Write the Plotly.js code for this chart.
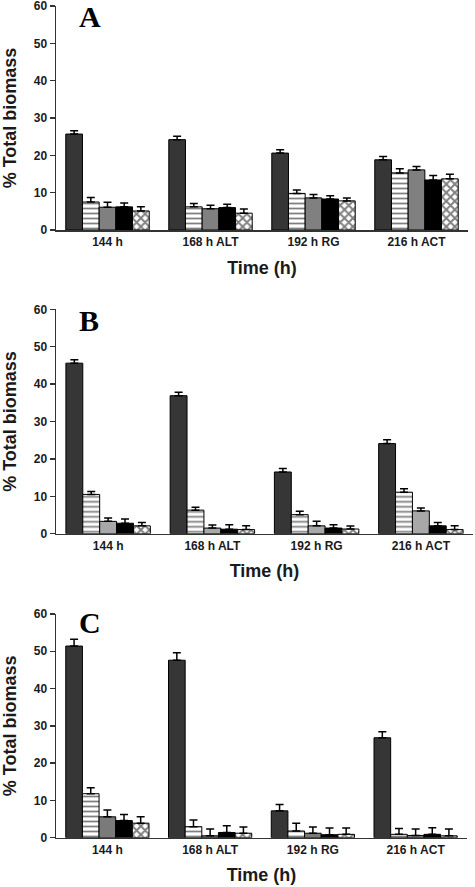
<!DOCTYPE html>
<html>
<head>
<meta charset="utf-8">
<script src="https://cdn.plot.ly/plotly-3.0.1.min.js"></script>
<style>html,body{margin:0;padding:0;background:#fff;}#chart{width:475px;height:887px;}</style>
</head>
<body>
<div id="chart"></div>
<script>
// ---- data ----
const categories = ["144 h", "168 h ALT", "192 h RG", "216 h ACT"];
const seriesNames = ["Series 1", "Series 2", "Series 3", "Series 4", "Series 5"];
const panelLabels = ["A", "B", "C"];
const yTicks = [0, 10, 20, 30, 40, 50, 60];

// Panel A values (one row per series) and upper error
const valuesA = [
  [25.7, 24.2, 20.6, 18.8],
  [7.5, 6.2, 9.8, 15.3],
  [6.1, 5.7, 8.6, 16.1],
  [6.2, 6.0, 8.3, 13.4],
  [5.1, 4.5, 7.8, 13.7]
];
const errorsA = [
  [0.9, 0.9, 0.9, 0.9],
  [1.2, 0.9, 0.9, 1.1],
  [1.3, 0.9, 0.9, 0.9],
  [1.0, 0.9, 0.9, 1.2],
  [1.1, 1.1, 0.8, 1.2]
];
// Panel B
const valuesB = [
  [45.6, 36.9, 16.5, 24.1],
  [10.5, 6.3, 5.1, 11.1],
  [3.3, 1.5, 2.1, 6.1],
  [2.8, 1.2, 1.5, 2.1],
  [2.1, 1.1, 1.25, 1.1]
];
const errorsB = [
  [0.9, 0.9, 0.9, 1.0],
  [0.8, 0.8, 0.9, 0.9],
  [0.9, 0.8, 1.2, 0.8],
  [1.1, 1.2, 0.9, 0.9],
  [0.9, 1.0, 0.8, 1.0]
];
// Panel C
const valuesC = [
  [51.4, 47.6, 7.2, 26.8],
  [11.8, 2.95, 1.8, 0.9],
  [5.6, 0.5, 1.2, 0.6],
  [4.6, 1.4, 0.8, 0.9],
  [3.9, 1.2, 0.9, 0.5]
];
const errorsC = [
  [1.8, 2.0, 1.7, 1.6],
  [1.6, 1.8, 2.1, 1.6],
  [1.8, 1.8, 1.7, 1.7],
  [1.6, 1.8, 1.8, 1.8],
  [1.7, 1.7, 1.7, 1.8]
];

// ---- styling ----
const W = 475, H = 887;
const grayByPanel = ["#808080", "#a8a8a8", "#7a7a7a"];
function styleFor(i, p) {
  const base = {line: {color: "#000", width: 1}};
  if (i === 0) return Object.assign(base, {color: "#363636"});
  if (i === 1) return Object.assign(base, {color: "#fff",
    pattern: {shape: "-", fgcolor: "#000", bgcolor: "#fff", size: 5, solidity: 0.35, fillmode: "overlay"}});
  if (i === 2) return Object.assign(base, {color: grayByPanel[p]});
  if (i === 3) return Object.assign(base, {color: "#000"});
  return Object.assign(base, {color: "#fff",
    pattern: {shape: "x", fgcolor: "#000", bgcolor: "#fff", size: 6, solidity: 0.55, fillmode: "overlay"}});
}

const panels = [
  {vals: valuesA, errs: errorsA, x: [56, 468], y: [6, 230]},
  {vals: valuesB, errs: errorsB, x: [56, 473], y: [309.3, 533.7]},
  {vals: valuesC, errs: errorsC, x: [56, 467], y: [614, 837.7]}
];

const font = {family: "Liberation Sans, Arial, sans-serif", color: "#1a1a1a"};
const traces = [];
const layout = {
  width: W, height: H,
  margin: {l: 0, r: 0, t: 0, b: 0},
  paper_bgcolor: "#fff", plot_bgcolor: "#fff",
  showlegend: false,
  barmode: "group", bargap: 0.19, bargroupgap: 0,
  font: font,
  annotations: []
};

panels.forEach((p, k) => {
  const xa = k === 0 ? "x" : "x" + (k + 1);
  const ya = k === 0 ? "y" : "y" + (k + 1);
  p.vals.forEach((v, i) => {
    traces.push({
      type: "bar", name: seriesNames[i],
      x: categories, y: v,
      xaxis: xa, yaxis: ya,
      marker: styleFor(i, k),
      error_y: {type: "data", array: p.errs[i], arrayminus: v.map(() => 0), symmetric: false,
                color: "#000", thickness: 1.5, width: 4},
      hoverinfo: "x+y"
    });
  });
  const xKey = k === 0 ? "xaxis" : "xaxis" + (k + 1);
  const yKey = k === 0 ? "yaxis" : "yaxis" + (k + 1);
  layout[xKey] = {
    domain: [p.x[0] / W, p.x[1] / W],
    anchor: ya, type: "category", range: [-0.5, 3.5],
    showline: true, linecolor: "#333", linewidth: 1.5,
    ticks: "", showgrid: false, zeroline: false,
    tickfont: {family: font.family, size: 12, weight: "bold", color: "#1a1a1a"},
    title: {text: "Time (h)", font: {family: font.family, size: 18, weight: "bold", color: "#1a1a1a"}, standoff: 13},
    automargin: false, fixedrange: true
  };
  layout[yKey] = {
    domain: [1 - p.y[1] / H, 1 - p.y[0] / H],
    anchor: xa, range: [0, 60], tickvals: yTicks,
    showline: true, linecolor: "#333", linewidth: 1.5,
    ticks: "outside", ticklen: 5, tickwidth: 1.5, tickcolor: "#333",
    ticklabeloverflow: "allow",
    showgrid: false, zeroline: false,
    tickfont: {family: font.family, size: 12, weight: "bold", color: "#1a1a1a"},
    title: {text: "% Total biomass", font: {family: font.family, size: 18, weight: "bold", color: "#1a1a1a"}, standoff: 12},
    automargin: false, fixedrange: true
  };
});

const letterPos = [[90, 16.5], [89, 320], [89.5, 622.5]];
panelLabels.forEach((t, k) => {
  layout.annotations.push({
    text: t, xref: "paper", yref: "paper",
    x: letterPos[k][0] / W, y: 1 - letterPos[k][1] / H,
    xanchor: "center", yanchor: "middle", showarrow: false,
    font: {family: "Liberation Serif, Times New Roman, serif", size: 30, weight: "bold", color: "#000"}
  });
});

Plotly.newPlot("chart", traces, layout, {staticPlot: true});
</script>
</body>
</html>
